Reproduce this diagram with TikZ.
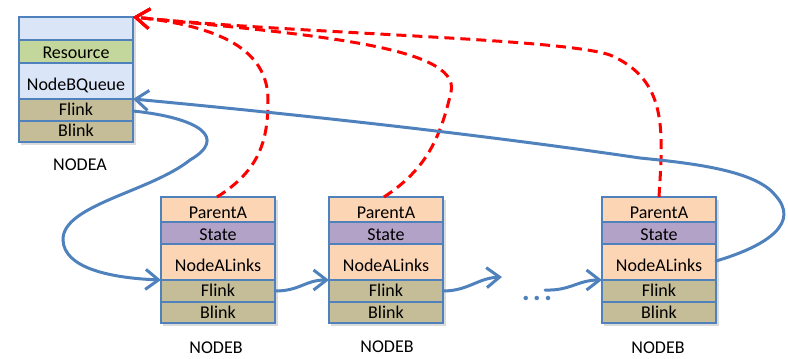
\documentclass[tikz,border=0pt]{standalone}
\usepackage{fontspec}
\setmainfont{Carlito}
\usetikzlibrary{arrows.meta}
\definecolor{boxline}{HTML}{4F81BD}
\definecolor{ablue}{RGB}{219,229,248}
\definecolor{agreen}{RGB}{195,214,155}
\definecolor{tan}{RGB}{196,189,151}
\definecolor{peach}{RGB}{252,213,181}
\definecolor{purp}{RGB}{179,162,199}
\begin{document}
\begin{tikzpicture}[x=1pt,y=-1pt,
  row/.style={draw=boxline, line width=2.2pt, minimum width=114pt, inner sep=0pt, outer sep=0pt,
    anchor=north west, font=\fontsize{18}{18}\selectfont, text height=13.6pt, text depth=0pt},
  lbl/.style={font=\fontsize{18}{18}\selectfont, inner sep=0pt},
  shadowbox/.style={fill=black, opacity=0.14},
  redline/.style={draw=red, line width=3pt, dash pattern=on 10pt off 6pt,
    -{Straight Barb[length=14pt,width=20pt]}},
  blueline/.style={draw=boxline, line width=3pt, line cap=round,
    -{Straight Barb[length=13pt,width=20pt]}}]
\useasboundingbox (0,0) rectangle (788,359);

% shadows
\fill[shadowbox] (21,20) rectangle (136,145);
\foreach \x in {161,329,602} {
  \fill[shadowbox] (\x+2,200) rectangle (\x+117,326);
}

% NODEA
\node[row, fill=ablue, minimum height=23pt] (A0) at (19,17) {};
\node[row, fill=agreen, minimum height=23pt] (Ares) at (19,40) {Resource};
\node[row, fill=ablue, minimum height=36pt, text height=19.4pt] (Aq) at (19,63) {NodeBQueue};
\node[row, fill=tan, minimum height=22pt, text height=10.8pt] (Af) at (19,99) {Flink};
\node[row, fill=tan, minimum height=21pt, text height=10.8pt] (Ab) at (19,121) {Blink};
\node[lbl] (Aname) at (80,165) {NODEA};

% NODEB boxes
\foreach \i/\x in {1/161,2/329,3/602} {
  \node[row, fill=peach, minimum height=25pt, text height=17.4pt] (B\i-p) at (\x,197) {ParentA};
  \node[row, fill=purp, minimum height=22pt, text height=14pt] (B\i-s) at (\x,222) {State};
  \node[row, fill=peach, minimum height=36pt, text height=19.4pt] (B\i-l) at (\x,244) {NodeALinks};
  \node[row, fill=tan, minimum height=22pt, text height=11.4pt] (B\i-f) at (\x,280) {Flink};
  \node[row, fill=tan, minimum height=21pt, text height=11.4pt] (B\i-b) at (\x,302) {Blink};
}
\node[lbl] (B1-name) at (216,348) {NODEB};
\node[lbl] (B2-name) at (387,347) {NODEB};
\node[lbl] (B3-name) at (658,348) {NODEB};

% dots
\node[text=boxline, font=\fontsize{30}{30}\selectfont\bfseries, inner sep=0pt] (dots) at (537,298) {.\hspace{3pt}.\hspace{3pt}.};
\coordinate (c1) at (502,277);
\coordinate (c2) at (545,290);

% red dashed parent links
\draw[redline] ([xshift=-1pt]B1-p.north) .. controls (260,170) and (268,140) .. (268,100)
   .. controls (268,50) and (220,26) .. (A0.north east);
\draw[redline] ([xshift=-2pt]B2-p.north) .. controls (425,170) and (440,140) .. (451,92)
   .. controls (462,45) and (300,34) .. (A0.north east);
\draw[redline] (B3-p.north) .. controls (663,130) and (668,80) .. (610,55)
   .. controls (560,38) and (300,34) .. (A0.north east);

% blue links
\draw[blueline] ([yshift=-1pt]Af.east) .. controls (200,118) and (228,138) .. (190,160)
   .. controls (150,192) and (62,205) .. (63,240)
   .. controls (64,268) and (110,278) .. (B1-l.south west);
\draw[blueline] (B1-f.east) .. controls (300,291) and (305,280) .. (B2-l.south west);
\draw[blueline] (B2-f.east) .. controls (468,291) and (478,278) .. (c1);
\draw[blueline] (c2) .. controls (570,291) and (578,280) .. (B3-l.south west);
\draw[blueline] ([yshift=1pt]B3-l.east) .. controls (770,245) and (800,222) .. (775,195)
   .. controls (755,170) and (690,163) .. (640,158)
   .. controls (450,130) and (250,110) .. (Af.north east);
\end{tikzpicture}
\end{document}
